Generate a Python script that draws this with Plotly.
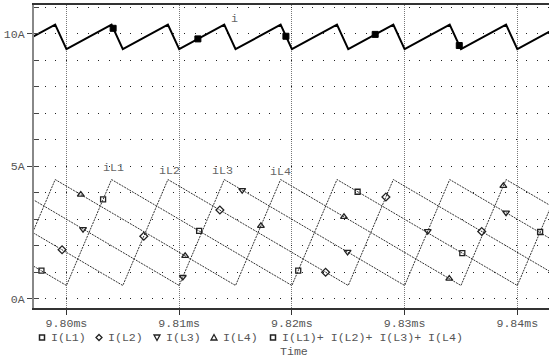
import plotly.graph_objects as go

# ---------------- data (times in ms, currents in A) ----------------
L1_t = [9.7840, 9.8000, 9.8040, 9.8200, 9.8240, 9.8400, 9.8440]
L1_v = [4.50, 0.50, 4.50, 0.50, 4.50, 0.50, 4.50]
L2_t = [9.7890, 9.8050, 9.8090, 9.8250, 9.8290, 9.8450]
L2_v = [4.50, 0.50, 4.50, 0.50, 4.50, 0.50]
L3_t = [9.7940, 9.8100, 9.8140, 9.8300, 9.8340, 9.8500]
L3_v = [4.50, 0.50, 4.50, 0.50, 4.50, 0.50]
L4_t = [9.7790, 9.7950, 9.7990, 9.8150, 9.8190, 9.8350, 9.8390, 9.8550]
L4_v = [4.50, 0.50, 4.50, 0.50, 4.50, 0.50, 4.50, 0.50]
SUM_t = [9.7950, 9.7990, 9.8000, 9.8040, 9.8050, 9.8090, 9.8100, 9.8140,
         9.8150, 9.8190, 9.8200, 9.8240, 9.8250, 9.8290, 9.8300, 9.8340,
         9.8350, 9.8390, 9.8400, 9.8440]
SUM_v = [9.42, 10.35, 9.42, 10.35, 9.42, 10.35, 9.42, 10.35, 9.42, 10.35,
         9.42, 10.35, 9.42, 10.35, 9.42, 10.35, 9.42, 10.35, 9.42, 10.35]

# marker samples
L1_mt = [9.79778, 9.80325, 9.81177, 9.82056, 9.82583, 9.83512, 9.84202]
L1_mv = [1.06, 3.75, 2.56, 1.06, 4.04, 1.72, 2.52]
L2_mt = [9.79961, 9.80686, 9.81361, 9.82299, 9.82834, 9.83684]
L2_mv = [1.85, 2.36, 3.35, 1.00, 3.84, 2.54]
L3_mt = [9.80147, 9.81032, 9.81559, 9.82494, 9.83205, 9.83900]
L3_mv = [2.63, 0.82, 4.10, 1.77, 2.55, 3.25]
L4_mt = [9.80127, 9.81053, 9.81725, 9.82462, 9.83396, 9.83876]
L4_mv = [3.93, 1.62, 2.75, 3.09, 0.76, 4.26]
SUM_mt = [9.80414, 9.81166, 9.81947, 9.82739, 9.83485]
SUM_mv = [10.21, 9.81, 9.91, 9.98, 9.56]

x_ticks = [9.80, 9.81, 9.82, 9.83, 9.84]
x_ticktext = ["9.80ms", "9.81ms", "9.82ms", "9.83ms", "9.84ms"]
y_ticks = [0, 5, 10]
y_ticktext = ["0A", "5A", "10A"]
y_minor = [0, 1, 2, 3, 4, 5, 6, 7, 8, 9, 10, 11]

trace_labels = ["iL1", "iL2", "iL3", "iL4", "i"]
label_t = [9.80415, 9.80914, 9.81387, 9.81902, 9.81488]
label_v = [4.95, 4.86, 4.86, 4.82, 10.58]

legend_names = ["I(L1)", "I(L2)", "I(L3)", "I(L4)", "I(L1)+ I(L2)+ I(L3)+ I(L4)"]

# ---------------- figure ----------------
W, H = 549, 358
ML, MR, MT, MB = 34, 0, 5, 50
PW, PH = W - ML - MR, H - MT - MB
FONT = "Liberation Mono"
FS = 11.6
TXT = "#555555"
INK = "#222222"

fig = go.Figure()

thin = dict(color="#333333", width=1, dash="2px,1px")
for t, v in [(L1_t, L1_v), (L2_t, L2_v), (L3_t, L3_v), (L4_t, L4_v)]:
    fig.add_trace(go.Scatter(x=t, y=v, mode="lines", line=thin,
                             showlegend=False, hoverinfo="skip"))
fig.add_trace(go.Scatter(x=SUM_t, y=SUM_v, mode="lines",
                         line=dict(color="black", width=2),
                         showlegend=False, hoverinfo="skip"))

for t, v, sym, sz in [(L1_mt, L1_mv, "square-open", 5),
                      (L2_mt, L2_mv, "diamond-open", 6),
                      (L3_mt, L3_mv, "triangle-down-open", 6),
                      (L4_mt, L4_mv, "triangle-up-open", 6)]:
    fig.add_trace(go.Scatter(x=t, y=v, mode="markers",
                             marker=dict(symbol=sym, size=sz, color=INK,
                                         line=dict(color=INK, width=1.3)),
                             showlegend=False, hoverinfo="skip"))
fig.add_trace(go.Scatter(x=SUM_mt, y=SUM_mv, mode="markers",
                         marker=dict(symbol="square", size=6, color="black",
                                     line=dict(color="black", width=1)),
                         showlegend=False, hoverinfo="skip"))

# dummy trace to hold the overlay axis used for dot grid / inner ticks
fig.add_trace(go.Scatter(x=[None], y=[None], yaxis="y2", showlegend=False,
                         hoverinfo="skip"))

XR = [9.79712, 9.84281]
YR = [-0.35, 11.09]

fig.update_layout(
    width=W, height=H,
    margin=dict(l=ML, r=MR, t=MT, b=MB),
    paper_bgcolor="white", plot_bgcolor="white",
    showlegend=False,
    xaxis=dict(range=XR, tickvals=x_ticks, ticktext=x_ticktext,
               ticks="outside", ticklen=5, tickcolor="#333", tickwidth=1,
               ticklabelstandoff=-2,
               showgrid=True, gridcolor="#777777", griddash="1px,1px",
               gridwidth=1, zeroline=False,
               showline=True, linecolor="#333333", linewidth=2, mirror=True,
               tickfont=dict(family=FONT, size=FS, color=TXT)),
    yaxis=dict(range=YR, tickvals=y_ticks, ticktext=y_ticktext,
               ticks="outside", ticklen=5, tickcolor="#444", tickwidth=1,
               showgrid=False, zeroline=False,
               showline=True, linecolor="#888888", linewidth=2,
               tickfont=dict(family=FONT, size=FS, color=TXT)),
    yaxis2=dict(range=YR, overlaying="y", side="left", tickvals=y_minor,
                ticks="inside", ticklen=5, tickcolor="#444", tickwidth=1,
                showticklabels=False, showgrid=True, gridcolor="#222222",
                griddash="1px,9.7px", gridwidth=1, zeroline=False,
                showline=False),
)

for txt, t, v in zip(trace_labels, label_t, label_v):
    fig.add_annotation(x=t, y=v, text=txt, showarrow=False,
                       font=dict(family=FONT, size=FS, color="#666666"))


def px(x, y):
    return (x - ML) / PW, (H - MB - y) / PH


# legend row (symbols as shapes, names as text)
LEG_Y = 337.5
sym_x = [42, 99, 157, 214, 273]
txt_x = [49, 106, 164, 221, 280]
s = 2.5
for i, (sx, tx, name) in enumerate(zip(sym_x, txt_x, legend_names)):
    if i in (0, 4):
        x0, y0 = px(sx - s, LEG_Y + s)
        x1, y1 = px(sx + s, LEG_Y - s)
        fig.add_shape(type="rect", xref="paper", yref="paper",
                      x0=x0, y0=y0, x1=x1, y1=y1,
                      line=dict(color=INK, width=1.5), fillcolor="white")
    else:
        if i == 1:
            pts = [(sx, LEG_Y - 3), (sx + 3, LEG_Y), (sx, LEG_Y + 3), (sx - 3, LEG_Y)]
        elif i == 2:
            pts = [(sx - 3, LEG_Y - 2.5), (sx + 3, LEG_Y - 2.5), (sx, LEG_Y + 3)]
        else:
            pts = [(sx - 3, LEG_Y + 2.5), (sx + 3, LEG_Y + 2.5), (sx, LEG_Y - 3)]
        path = "M " + " L ".join("%f,%f" % px(a, b) for a, b in pts) + " Z"
        fig.add_shape(type="path", xref="paper", yref="paper", path=path,
                      line=dict(color=INK, width=1.3), fillcolor="white")
    xp, yp = px(tx, LEG_Y)
    fig.add_annotation(xref="paper", yref="paper", x=xp, y=yp, text=name,
                       xanchor="left", yanchor="middle", showarrow=False,
                       font=dict(family=FONT, size=FS, color=TXT))

xp, yp = px(293.5, 351.5)
fig.add_annotation(xref="paper", yref="paper", x=xp, y=yp, text="Time",
                   xanchor="center", yanchor="middle", showarrow=False,
                   font=dict(family=FONT, size=FS, color=TXT))

fig.write_html("out.html")
